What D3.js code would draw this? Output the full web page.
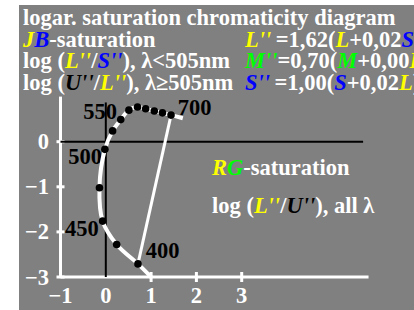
<!DOCTYPE html>
<html>
<head>
<meta charset="utf-8">
<script src="https://cdn.jsdelivr.net/npm/d3@7"></script>
<style>
  body { margin: 0; background: #fff; }
  svg { display: block; }
  text { font-family: "Liberation Serif", "Times New Roman", serif; font-weight: bold; }
</style>
</head>
<body>
<svg></svg>
<script>
var width = 414, height = 310;
var fs = 22.5;

// data
var xTicks = [-1, 0, 1, 2, 3];
var yTicks = [0, -1, -2, -3];
// spectral locus, long wavelength end first
var locusX = [1.70, 1.44, 1.25, 1.07, 0.88, 0.70, 0.51, 0.33, 0.15, -0.02, -0.14, -0.07, 0.24, 0.71, 1.00];
var locusY = [0.52, 0.59, 0.64, 0.68, 0.73, 0.77, 0.70, 0.49, 0.24, -0.17, -1.02, -1.76, -2.28, -2.71, -3.00];
var dotX = [1.44, 1.25, 1.07, 0.88, 0.70, 0.51, 0.33, 0.15, -0.02, -0.14, -0.07, 0.24, 0.71];
var dotY = [0.59, 0.64, 0.68, 0.73, 0.77, 0.70, 0.49, 0.24, -0.17, -1.02, -1.76, -2.28, -2.71];
// purple line 700 -> 400
var purpleX = [1.44, 0.71];
var purpleY = [0.59, -2.71];
var waveLabels = ["550", "700", "500", "450", "400"];
var waveLabelX = [-0.50, 1.59, -0.83, -0.90, 0.88];
var waveLabelY = [0.50, 0.59, -0.50, -2.10, -2.57];

var svg = d3.select("svg")
    .attr("width", width)
    .attr("height", height);

// gray field
svg.append("rect")
    .attr("x", 19).attr("y", 5)
    .attr("width", width - 19).attr("height", height - 5)
    .attr("fill", "#808080");

var x = d3.scaleLinear().domain([-1, 3]).range([60.5, 241.7]);
var y = d3.scaleLinear().domain([0, -3]).range([141.7, 277]);

// coloured text helper: parts = [text, colour, italic]
function rich(px, py, parts) {
  var t = svg.append("text").attr("x", px).attr("y", py).attr("font-size", fs);
  parts.forEach(function(p) {
    t.append("tspan")
      .attr("fill", p[1] || "#fff")
      .attr("font-style", p[2] ? "italic" : "normal")
      .text(p[0]);
  });
  return t;
}

var Y = "#ffff00", B = "#0000ff", G = "#00ff00", K = "#000";

rich(23, 25, [["logar. saturation chromaticity diagram"]]);
rich(23, 46.5, [["J", Y, 1], ["B", B, 1], ["-saturation"]]);
rich(23, 68, [["log ("], ["L''", Y, 1], ["/"], ["S''", B, 1], ["), λ<505nm"]]);
rich(23, 89.5, [["log ("], ["U''", K, 1], ["/"], ["L''", Y, 1], ["), λ≥505nm"]]);

rich(245, 46.5, [["L''", Y, 1], ["\u2009=1,62("], ["L", Y, 1], ["+0,02"], ["S", B, 1], [")"]]);
rich(245, 68, [["M''", G, 1], ["=0,70("], ["M", G, 1], ["+0,00"], ["L", Y, 1], [")"]]);
rich(245, 89.5, [["S''", B, 1], ["\u2009=1,00("], ["S", B, 1], ["+0,02"], ["L", Y, 1], [")"]]);

rich(212, 175, [["R", Y, 1], ["G", G, 1], ["-saturation"]]);
rich(212, 213, [["log ("], ["L''", Y, 1], ["/"], ["U''", K, 1], ["), all λ"]]);

// axes (white)
svg.append("line")
    .attr("x1", x(-1)).attr("x2", x(-1))
    .attr("y1", y(1)).attr("y2", y(-3))
    .attr("stroke", "#fff").attr("stroke-width", 3);
svg.append("line")
    .attr("x1", x(-1)).attr("x2", x(5.8))
    .attr("y1", y(-3)).attr("y2", y(-3))
    .attr("stroke", "#fff").attr("stroke-width", 3);

svg.selectAll(".ytick").data(yTicks).enter().append("line")
    .attr("x1", x(-1) - 4).attr("x2", x(-1) + 4)
    .attr("y1", function(d) { return y(d); })
    .attr("y2", function(d) { return y(d); })
    .attr("stroke", "#fff").attr("stroke-width", 3);
svg.selectAll(".xtick").data(xTicks.filter(function(d) { return d > 0; })).enter().append("line")
    .attr("x1", function(d) { return x(d); })
    .attr("x2", function(d) { return x(d); })
    .attr("y1", y(-3) - 5).attr("y2", y(-3) + 5)
    .attr("stroke", "#fff").attr("stroke-width", 3);

svg.selectAll(".ylab").data(yTicks).enter().append("text")
    .attr("x", 49).attr("y", function(d) { return y(d) + 7.5; })
    .attr("text-anchor", "end").attr("font-size", fs).attr("fill", "#fff")
    .text(function(d) { return d < 0 ? "\u2212" + (-d) : d; });
svg.selectAll(".xlab").data(xTicks).enter().append("text")
    .attr("x", function(d) { return x(d); }).attr("y", 303)
    .attr("text-anchor", "middle").attr("font-size", fs).attr("fill", "#fff")
    .text(function(d) { return d < 0 ? "\u2212" + (-d) : d; });

// wavelength labels
svg.selectAll(".wl").data(waveLabels).enter().append("text")
    .attr("x", function(d, i) { return x(waveLabelX[i]); })
    .attr("y", function(d, i) { return y(waveLabelY[i]); })
    .attr("font-size", fs).attr("fill", "#000")
    .text(function(d) { return d; });

// black zero lines
svg.append("line")
    .attr("x1", x(-1)).attr("x2", x(5.68))
    .attr("y1", y(0)).attr("y2", y(0))
    .attr("stroke", "#000").attr("stroke-width", 2);
svg.append("line")
    .attr("x1", x(0)).attr("x2", x(0))
    .attr("y1", y(0.87)).attr("y2", y(-3))
    .attr("stroke", "#000").attr("stroke-width", 2);

// purple line
svg.append("line")
    .attr("x1", x(purpleX[0])).attr("y1", y(purpleY[0]))
    .attr("x2", x(purpleX[1])).attr("y2", y(purpleY[1]))
    .attr("stroke", "#fff").attr("stroke-width", 3);

// locus
var line = d3.line()
    .x(function(d, i) { return x(locusX[i]); })
    .y(function(d, i) { return y(locusY[i]); })
    .curve(d3.curveCatmullRom);
svg.append("path")
    .attr("d", line(locusX))
    .attr("fill", "none").attr("stroke", "#fff").attr("stroke-width", 4);

svg.selectAll(".dot").data(dotX).enter().append("circle")
    .attr("cx", function(d) { return x(d); })
    .attr("cy", function(d, i) { return y(dotY[i]); })
    .attr("r", 3.8).attr("fill", "#000");
</script>
</body>
</html>
